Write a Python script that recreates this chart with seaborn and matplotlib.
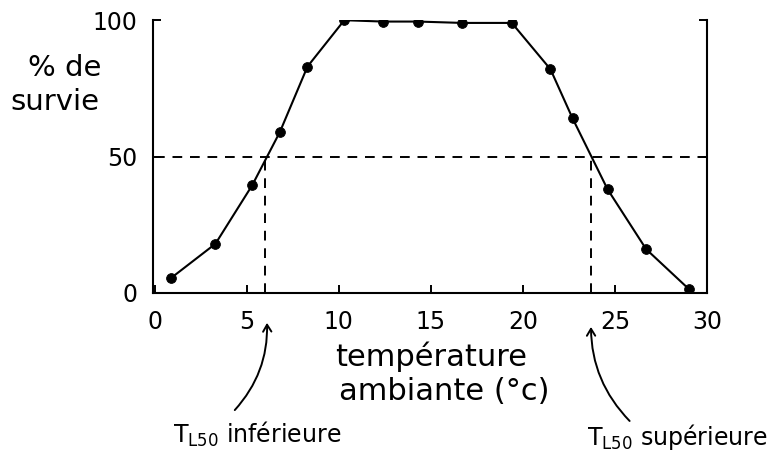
import matplotlib
matplotlib.use("Agg")
import matplotlib.pyplot as plt
import seaborn as sns
import pandas as pd

# points
temperature = [0.9, 3.3, 5.3, 6.8, 8.3, 10.3, 12.4, 14.3, 16.7, 19.4, 21.5, 22.7, 24.6, 26.7, 29.0]
survie = [5.5, 18, 39.5, 59, 83, 100, 99.5, 99.5, 99, 99, 82, 64, 38, 16, 1.5]

# seuils TL50
tl50_inf = 6.0
tl50_sup = 23.7
x_ticks = [0, 5, 10, 15, 20, 25, 30]
y_ticks = [0, 50, 100]

df = pd.DataFrame({"temperature": temperature, "survie": survie})

sns.set_style("ticks")
plt.rcParams["font.family"] = ["DejaVu Sans"]
plt.rcParams["text.color"] = "black"

fig = plt.figure(figsize=(7.76, 4.59), dpi=100)
ax = fig.add_axes([0.197, 0.362, 0.714, 0.594])

sns.lineplot(data=df, x="temperature", y="survie", color="black", linewidth=1.5, ax=ax)
sns.scatterplot(data=df, x="temperature", y="survie", color="black", s=50, edgecolor="black", zorder=3, ax=ax)

# lignes pointillées
dash = (0, (5, 4))
ax.plot([0, 30], [50, 50], color="black", linestyle=dash, linewidth=1.4)
ax.plot([tl50_inf, tl50_inf], [0, 50], color="black", linestyle=dash, linewidth=1.4)
ax.plot([tl50_sup, tl50_sup], [0, 50], color="black", linestyle=dash, linewidth=1.4)

ax.set_xlim(-0.1, 30)
ax.set_ylim(0, 100)
ax.set_xticks(x_ticks)
ax.set_yticks(y_ticks)
ax.set_xticklabels([str(t) for t in x_ticks], fontsize=17)
ax.set_yticklabels([str(t) for t in y_ticks], fontsize=17)
ax.tick_params(direction="in", length=6, width=1.4, colors="black", right=True)
ax.tick_params(axis="x", pad=12)
ax.tick_params(axis="y", pad=11)
ax.set_xlabel("")
ax.set_ylabel("")

for s in ["left", "bottom", "right"]:
    ax.spines[s].set_linewidth(1.5)
    ax.spines[s].set_color("black")
ax.spines["top"].set_visible(False)

# étiquettes des axes
fig.text(0.083, 0.852, "% de", fontsize=21, ha="center", va="center")
fig.text(0.071, 0.778, "survie", fontsize=21, ha="center", va="center")
fig.text(0.555, 0.222, "température", fontsize=22, ha="center", va="center")
fig.text(0.572, 0.146, "ambiante (°c)", fontsize=22, ha="center", va="center")

# flèches TL50
arrow = dict(arrowstyle="->,head_length=0.5,head_width=0.3", color="black", lw=1.4,
             shrinkA=0, shrinkB=0)
ax.annotate("", xy=(tl50_inf + 0.1, -11), xytext=(4.35, -43), annotation_clip=False,
            arrowprops=dict(arrow, connectionstyle="arc3,rad=0.2"))
ax.annotate("", xy=(tl50_sup, -12.5), xytext=(25.8, -47), annotation_clip=False,
            arrowprops=dict(arrow, connectionstyle="arc3,rad=-0.2"))
ax.text(1.0, -52, r"T$_{\mathregular{L50}}$ inférieure", fontsize=17, ha="left", va="center", clip_on=False)
ax.text(23.5, -53, r"T$_{\mathregular{L50}}$ supérieure", fontsize=17, ha="left", va="center", clip_on=False)

fig.savefig("out.png", dpi=100)
